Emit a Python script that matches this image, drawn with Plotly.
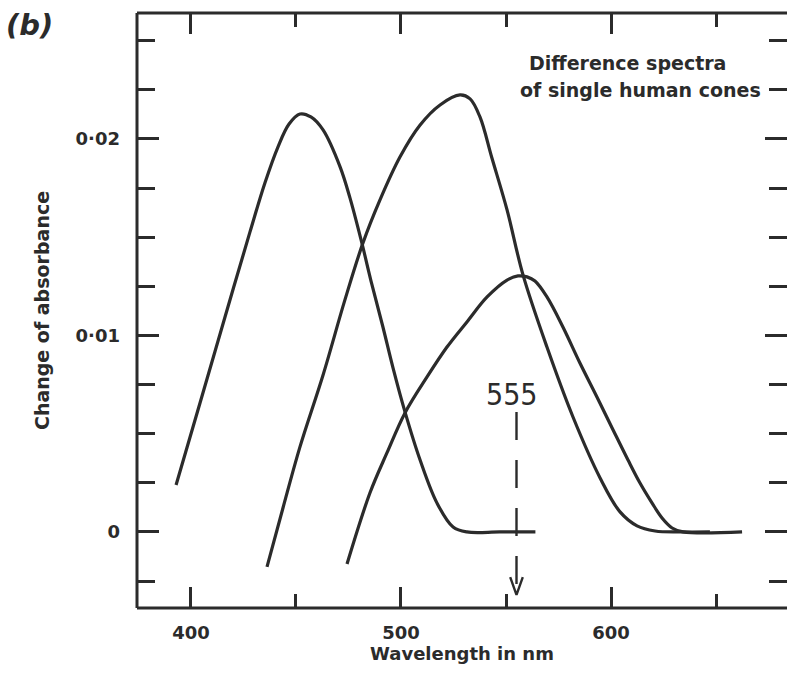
import plotly.graph_objects as go

# ---- data ----
blue_wl = [392.9, 404.3, 416.2, 428.1, 435.2, 441.4, 446.7, 451.9, 457.1, 462.9, 471.0, 475.7,
           481.0, 486.2, 491.4, 496.2, 501.9, 509.1, 517.1, 524.8, 531.4, 547.0, 564.0]
blue_abs = [0.00239, 0.00656, 0.01094, 0.01527, 0.01776, 0.01959, 0.02076, 0.02127, 0.02112, 0.02046, 0.01858, 0.01700,
            0.01486, 0.01257, 0.01043, 0.00835, 0.00611, 0.00366, 0.00148, 0.00025, 0.0, 0.0, 0.0]

green_wl = [436.2, 443.8, 451.9, 462.9, 473.3, 481.9, 490.0, 499.5, 509.1, 518.6, 528.1, 532.9,
            537.6, 543.3, 550.5, 558.1, 569.5, 581.9, 594.8, 604.3, 612.4, 621.0, 632.9, 647.1]
green_abs = [-0.00178, 0.00122, 0.00433, 0.00799, 0.01181, 0.01471, 0.01690, 0.01908, 0.02071, 0.02173, 0.02224, 0.02204,
             0.02112, 0.01903, 0.01639, 0.01308, 0.00941, 0.00585, 0.00275, 0.00102, 0.00031, 0.00005, 0.0, 0.0]

red_wl = [474.3, 485.2, 493.3, 501.9, 512.4, 521.9, 531.4, 541.0, 550.5, 555.7, 560.0, 563.8, 569.5,
          577.1, 585.2, 593.3, 601.0, 608.1, 613.8, 619.5, 624.3, 629.1, 634.3, 662.4]
red_abs = [-0.00163, 0.00198, 0.00402, 0.00606, 0.00789, 0.00941, 0.01069, 0.01196, 0.01282, 0.01303, 0.01298, 0.01277, 0.01196,
           0.01043, 0.00860, 0.00687, 0.00519, 0.00366, 0.00249, 0.00148, 0.00071, 0.00020, 0.0, 0.0]

x_tick_vals = [400, 500, 600]
x_tick_text = ["400", "500", "600"]
y_tick_vals = [0, 0.01, 0.02]
y_tick_text = ["0", "0·01", "0·02"]

marker_wavelength = 555
marker_label = "555"
marker_top = 0.0061
marker_tip = -0.0032

INK = "#2b2b2b"
FONT = "DejaVu Sans"

fig = go.Figure()
for wl, ab in [(blue_wl, blue_abs), (green_wl, green_abs), (red_wl, red_abs)]:
    fig.add_trace(go.Scatter(x=wl, y=ab, mode="lines",
                             line=dict(color=INK, width=3.2, shape="spline", smoothing=1.0),
                             showlegend=False, hoverinfo="skip"))

# dashed marker at 555 nm
fig.add_trace(go.Scatter(x=[marker_wavelength, marker_wavelength], y=[marker_top, marker_tip],
                         mode="lines", line=dict(color=INK, width=2.4, dash="28px,20px"),
                         showlegend=False, hoverinfo="skip"))
# open arrow head
fig.add_trace(go.Scatter(x=[marker_wavelength - 3.0, marker_wavelength, marker_wavelength + 3.0],
                         y=[marker_tip + 0.0009, marker_tip, marker_tip + 0.0009],
                         mode="lines", line=dict(color=INK, width=2.4),
                         showlegend=False, hoverinfo="skip"))

fig.add_annotation(x=marker_wavelength, y=marker_top, xref="x", yref="y",
                   text=marker_label, showarrow=False, yanchor="bottom", xshift=-5, yshift=-2,
                   font=dict(family="DejaVu Sans Condensed, sans-serif", size=30, color=INK))

# frame: left, top, bottom (right edge lies beyond the picture)
for x0, y0, x1, y1 in [(0, 0, 0, 1), (0, 1, 1, 1), (0, 0, 1, 0)]:
    fig.add_shape(type="line", xref="paper", yref="paper", x0=x0, y0=y0, x1=x1, y1=y1,
                  line=dict(color=INK, width=3))

fig.add_annotation(x=-0.204, y=1.0, xref="paper", yref="paper", text="<i><b>(b)</b></i>",
                   showarrow=False, xanchor="left", yanchor="top", yshift=7,
                   font=dict(family=FONT, size=29, color=INK))

fig.add_annotation(x=(527 - 137) / 650, y=(608 - 63) / 595, xref="paper", yref="paper",
                   text="<b>Difference spectra</b>", showarrow=False, xanchor="left", yanchor="middle",
                   font=dict(family=FONT, size=19, color=INK))
fig.add_annotation(x=(518 - 137) / 650, y=(608 - 90) / 595, xref="paper", yref="paper",
                   text="<b>of single human cones</b>", showarrow=False, xanchor="left", yanchor="middle",
                   font=dict(family=FONT, size=19, color=INK))

fig.update_layout(
    width=787, height=673,
    margin=dict(l=137, r=0, t=13, b=65),
    paper_bgcolor="white", plot_bgcolor="white",
    font=dict(family=FONT, color=INK),
    xaxis=dict(range=[374.3, 683.8], showgrid=False, zeroline=False, showline=False,
               tickmode="array", tickvals=x_tick_vals, ticktext=x_tick_text,
               ticks="inside", ticklen=21, tickwidth=3, tickcolor=INK, mirror="ticks",
               ticklabelstandoff=12,
               tickfont=dict(family=FONT, size=18, color=INK, weight="bold"),
               minor=dict(ticks="inside", dtick=50, tick0=400, ticklen=14, tickwidth=3,
                          tickcolor=INK, showgrid=False),
               title=dict(text="<b>Wavelength in nm</b>", font=dict(family=FONT, size=18, color=INK),
                          standoff=5)),
    yaxis=dict(range=[-0.00387, 0.02641], showgrid=False, zeroline=False, showline=False,
               tickmode="array", tickvals=y_tick_vals, ticktext=y_tick_text,
               ticks="inside", ticklen=22, tickwidth=3, tickcolor=INK, mirror="ticks",
               ticklabelstandoff=16,
               tickfont=dict(family=FONT, size=18, color=INK, weight="bold"),
               minor=dict(ticks="inside", dtick=0.0025, tick0=0, ticklen=18, tickwidth=3,
                          tickcolor=INK, showgrid=False),
               title=dict(text="<b>Change of absorbance</b>",
                          font=dict(family=FONT, size=19, color=INK), standoff=20)),
)

fig.write_html("out.html", config={"displayModeBar": False},
               post_script="document.body.style.margin='0';")
